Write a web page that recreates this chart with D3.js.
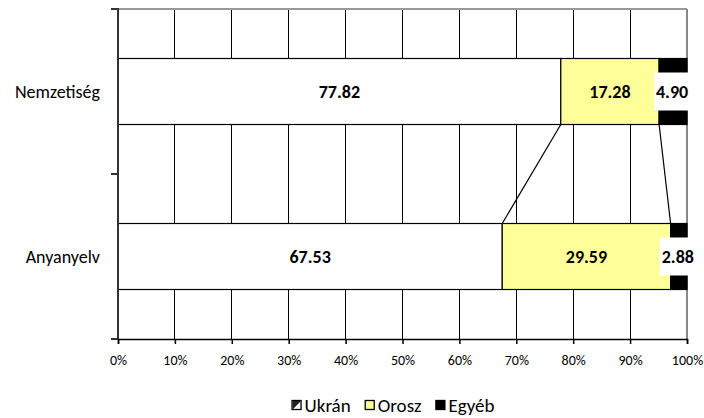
<!DOCTYPE html>
<html><head><meta charset="utf-8">
<script src="https://cdn.jsdelivr.net/npm/d3@7"></script>
<style>
html,body{margin:0;padding:0;background:#fff;}
text{font-family:Carlito,Calibri,Lato,sans-serif;}
</style></head>
<body><svg id="c" width="704" height="418"></svg>
<script>
const categories = ["Nemzetiség", "Anyanyelv"];
const seriesNames = ["Ukrán", "Orosz", "Egyéb"];
const ukran = [77.82, 67.53];
const orosz = [17.28, 29.59];
const egyeb = [4.90, 2.88];
const xTicks = [0,10,20,30,40,50,60,70,80,90,100];

const svg = d3.select("#c");
const m = {l:118, r:687, t:9, b:339};
const x = d3.scaleLinear().domain([0,100]).range([m.l, m.r]);
const y = d3.scaleBand().domain(categories).range([m.t, m.b]).paddingInner(0).paddingOuter(0);
const bw = y.bandwidth()*0.4;
const barY = c => y(c) + (y.bandwidth()-bw)/2;

const fills = ["#ffffff", "#ffff99", "#000000"];
const rows = categories.map((c,i)=>({cat:c, vals:[ukran[i], orosz[i], egyeb[i]]}));
const stack = d3.stack().keys([0,1,2]).value((d,k)=>d.vals[k])(rows);

// gridlines
svg.append("g").selectAll("line").data(xTicks.slice(1,-1)).join("line")
  .attr("x1",d=>x(d)).attr("x2",d=>x(d)).attr("y1",m.t).attr("y2",m.b)
  .attr("stroke","#000").attr("stroke-width",1).attr("shape-rendering","crispEdges");
// top and right border (gray)
svg.append("line").attr("x1",m.l).attr("x2",m.r).attr("y1",m.t).attr("y2",m.t)
  .attr("stroke","#999").attr("stroke-width",2).attr("shape-rendering","crispEdges");
svg.append("line").attr("x1",m.r).attr("x2",m.r).attr("y1",m.t).attr("y2",m.b)
  .attr("stroke","#888").attr("stroke-width",2).attr("shape-rendering","crispEdges");

// bars
stack.forEach((s,k)=>{
  svg.append("g").selectAll("rect").data(s).join("rect")
    .attr("x",d=>x(d[0])).attr("width",d=>x(d[1])-x(d[0]))
    .attr("y",d=>barY(d.data.cat)).attr("height",bw)
    .attr("fill",fills[k]).attr("stroke","#000").attr("stroke-width",1.2);
});

// series lines
for (let k=0;k<2;k++){
  svg.append("line")
    .attr("x1",x(stack[k][0][1])).attr("y1",barY(categories[0])+bw)
    .attr("x2",x(stack[k][1][1])).attr("y2",barY(categories[1]))
    .attr("stroke","#000").attr("stroke-width",1.2);
}

// y axis
const yAxis = svg.append("g");
yAxis.append("line").attr("x1",m.l).attr("x2",m.l).attr("y1",m.t-1).attr("y2",m.b)
  .attr("stroke","#333").attr("stroke-width",2);
yAxis.selectAll(".tk").data([m.t, y(categories[1]), m.b]).join("line")
  .attr("x1",m.l-7).attr("x2",m.l).attr("y1",d=>d).attr("y2",d=>d)
  .attr("stroke","#333").attr("stroke-width",2);
yAxis.selectAll("text").data(categories).join("text")
  .attr("x",100).attr("y",d=>y(d)+y.bandwidth()/2).attr("dy","0.35em")
  .attr("text-anchor","end").attr("font-size",18).attr("fill","#000").text(d=>d);

// x axis
const xa = svg.append("g").attr("transform",`translate(0,${m.b})`)
  .call(d3.axisBottom(x).tickValues(xTicks).tickFormat(d=>d+"%").tickSize(5).tickPadding(11));
xa.select(".domain").attr("stroke","#000").attr("stroke-width",1.5);
xa.selectAll(".tick line").attr("stroke","#000").attr("stroke-width",1.5);
xa.selectAll("text").attr("font-size",14).attr("fill","#000")
  .style("font-family","Carlito,Calibri,Lato,sans-serif");

// data labels
stack.forEach((s,k)=>{
  s.forEach(d=>{
    const cx = (x(d[0])+x(d[1]))/2 - (k===2?1:0);
    const cy = barY(d.data.cat)+bw/2;
    const g = svg.append("g");
    const t = g.append("text").attr("x",cx).attr("y",cy).attr("dy","0.35em")
      .attr("text-anchor","middle").attr("font-size",18).attr("font-weight","bold")
      .attr("fill","#000").text((d[1]-d[0]).toFixed(2));
    if (k===2){
      const bb = t.node().getBBox();
      g.insert("rect","text").attr("x",bb.x-2).attr("width",bb.width+4)
        .attr("y",cy-19).attr("height",38).attr("fill","#fff");
    }
  });
});

// legend
const lg = svg.append("g");
const ly = 405;
const items = [];
seriesNames.forEach((n,k)=>{
  const g = lg.append("g");
  if (k===0){
    g.append("rect").attr("x",0.5).attr("y",ly-4.5).attr("width",9).attr("height",9)
      .attr("fill","#fff").attr("stroke","#000").attr("stroke-width",1.3);
    g.append("path").attr("d",`M1,${ly+4.5} L9.5,${ly-4} L1,${ly-4} Z`)
      .attr("fill","#222");
  } else {
    g.append("rect").attr("x",0.5).attr("y",ly-4.5).attr("width",9).attr("height",9)
      .attr("fill",fills[k]).attr("stroke","#000").attr("stroke-width",1.3);
  }
  const t = g.append("text").attr("x",13).attr("y",ly).attr("dy","0.35em")
    .attr("font-size",19).attr("fill","#000").text(n);
  items.push({g, w: 13 + t.node().getComputedTextLength()});
});
const gap = 14;
const total = d3.sum(items, d=>d.w) + gap*(items.length-1);
let lx = 393 - total/2;
items.forEach(it=>{ it.g.attr("transform",`translate(${lx},0)`); lx += it.w + gap; });
</script></body></html>
